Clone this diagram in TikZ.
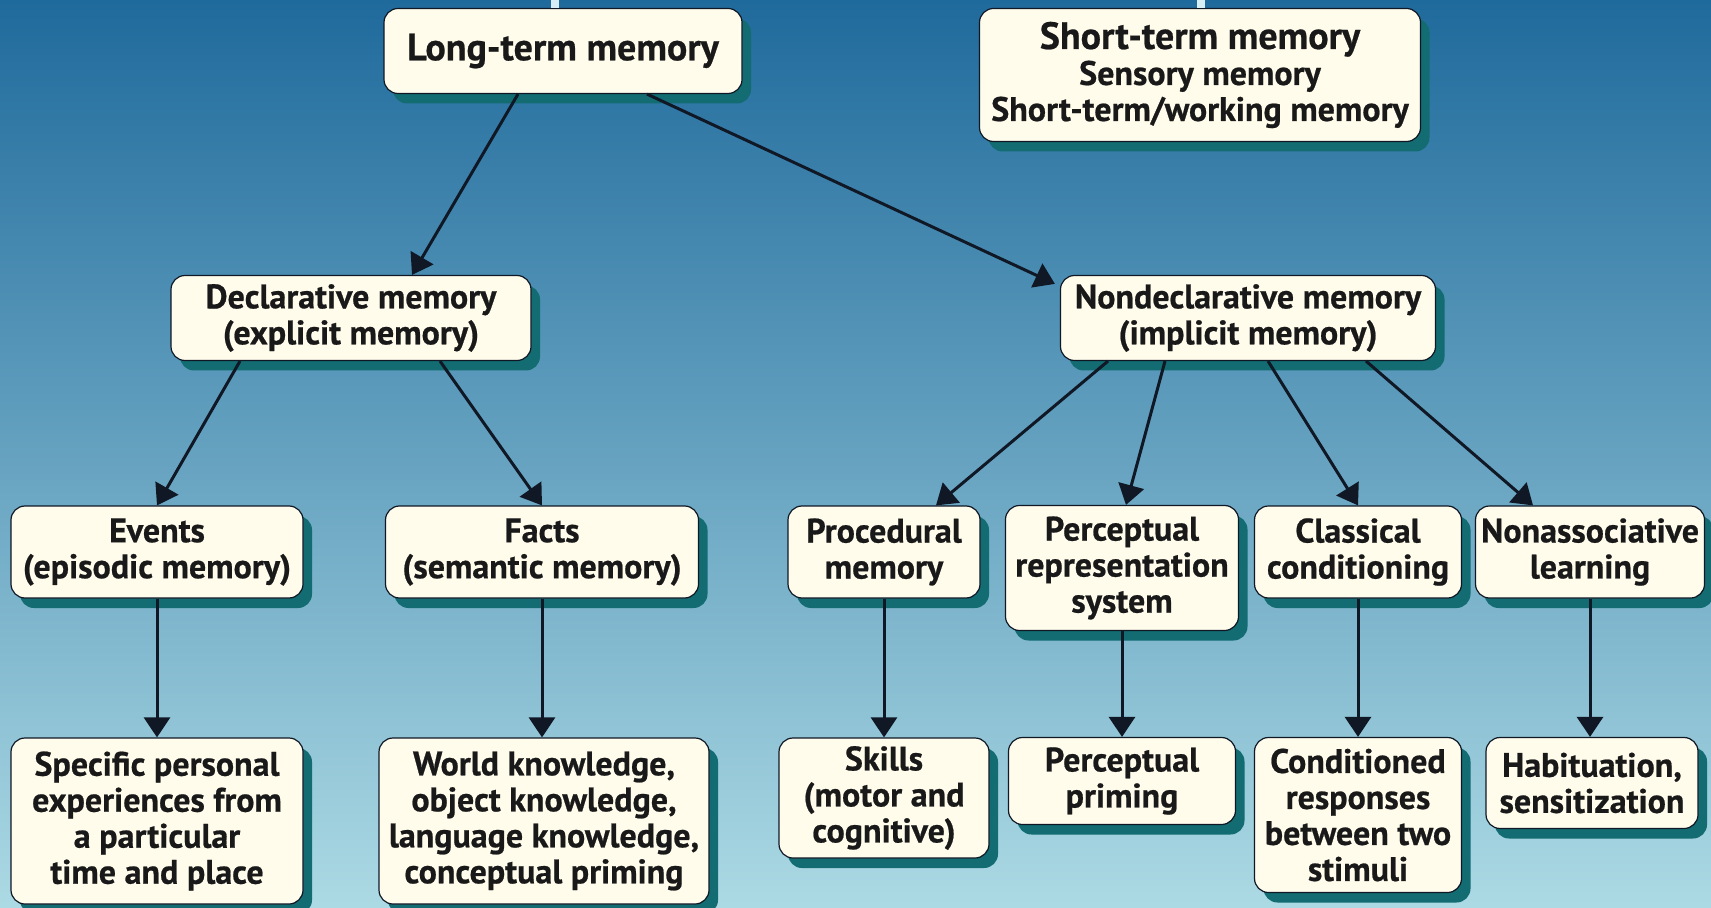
\documentclass[tikz,border=0pt]{standalone}
\usepackage{fontspec}
\setmainfont{PT Sans}[BoldFeatures={FakeBold=0.6}]
\usetikzlibrary{arrows.meta,shadows,calc}

\definecolor{bgtop}{RGB}{31,106,156}
\definecolor{bgmid}{RGB}{72,145,185}
\definecolor{bgbot}{RGB}{172,218,228}
\definecolor{cream}{RGB}{255,252,236}
\definecolor{shadowteal}{RGB}{18,108,114}
\definecolor{arrowink}{RGB}{16,24,38}
\definecolor{stubcol}{RGB}{215,238,245}

\begin{document}
\begin{tikzpicture}[x=0.5pt, y=-0.5pt,
    box/.style={draw=arrowink, line width=0.6pt, fill=cream, rounded corners=7pt, align=center,
        text=black!90, inner sep=2pt, font=\fontsize{17}{18}\selectfont\bfseries,
        drop shadow={shadow xshift=4.5pt, shadow yshift=-5pt, fill=shadowteal, opacity=1}},
    head/.style={font=\fontsize{19}{20}\selectfont\bfseries\addfontfeature{FakeBold=1.6}},
    arr/.style={-{Triangle[length=10pt,width=13pt]}, line width=1.5pt, draw=arrowink},
    stub/.style={line width=4pt, draw=stubcol}]

    \useasboundingbox (0,0) rectangle (1711,908);
    \shade[top color=bgtop, middle color=bgmid, bottom color=bgbot] (0,0) rectangle (1711,908);

    \coordinate (stubL) at (555,0);
    \coordinate (stubR) at (1201,0);

    % top row
    \node[box, head, minimum width=179pt, minimum height=42.5pt] (ltm) at (563,51) {Long-term memory};
    \node[box, minimum width=220.5pt, minimum height=66.5pt] (stm) at (1200,75)
        {{\fontsize{19}{18}\selectfont\addfontfeature{FakeBold=1.6}Short-term memory}\\Sensory memory\\Short-term/working memory};
    \draw[stub] (stubL) -- (ltm.north -| stubL);
    \draw[stub] (stubR) -- (stm.north -| stubR);

    % second row
    \node[box, minimum width=180pt, minimum height=42.5pt] (decl) at (351,318) {Declarative memory\\(explicit memory)};
    \node[box, minimum width=187.5pt, minimum height=42.5pt] (nondecl) at (1248,318) {Nondeclarative memory\\(implicit memory)};

    % third row
    \node[box, minimum width=146pt, minimum height=46pt] (events) at (157,552) {Events\\(episodic memory)};
    \node[box, minimum width=156.5pt, minimum height=46pt] (facts) at (542,552) {Facts\\(semantic memory)};
    \node[box, minimum width=96pt, minimum height=46pt] (proc) at (884,552) {Procedural\\memory};
    \node[box, minimum width=116.5pt, minimum height=62.5pt] (percep) at (1122,568) {Perceptual\\representation\\system};
    \node[box, minimum width=103.5pt, minimum height=46pt] (classic) at (1358,552) {Classical\\conditioning};
    \node[box, minimum width=114.5pt, minimum height=46pt] (nonassoc) at (1590,552) {Nonassociative\\learning};

    % bottom row
    \node[box, minimum width=146pt, minimum height=83pt] (specific) at (157,821) {Specific personal\\experiences from\\a particular\\time and place};
    \node[box, minimum width=165pt, minimum height=83pt] (world) at (544,821) {World knowledge,\\object knowledge,\\language knowledge,\\conceptual priming};
    \node[box, minimum width=105pt, minimum height=60pt] (skills) at (884,798) {Skills\\(motor and\\cognitive)};
    \node[box, minimum width=113.5pt, minimum height=43.5pt] (priming) at (1122,781) {Perceptual\\priming};
    \node[box, minimum width=103.5pt, minimum height=77.5pt] (cond) at (1358,815) {Conditioned\\responses\\between two\\stimuli};
    \node[box, minimum width=106pt, minimum height=45.5pt] (habit) at (1592,783) {Habituation,\\sensitization};

    \draw[arr] ($(ltm.south)+(-45,0)$) -- ($(decl.north)+(61,0)$);
    \draw[arr] ($(ltm.south)+(84,0)$) -- ($(nondecl.north west)+(-5,9)$);

    \draw[arr] ($(decl.south)+(-111,0)$) -- (events.north);
    \draw[arr] ($(decl.south)+(89,0)$) -- (facts.north);

    \draw[arr] ($(nondecl.south)+(-140,0)$) -- ($(proc.north)+(52,0)$);
    \draw[arr] ($(nondecl.south)+(-83,0)$) -- ($(percep.north)+(4,0)$);
    \draw[arr] ($(nondecl.south)+(20,0)$) -- (classic.north);
    \draw[arr] ($(nondecl.south)+(118,0)$) -- ($(nonassoc.north)+(-57,0)$);

    \foreach \a/\b in {events/specific, facts/world, proc/skills, percep/priming, classic/cond, nonassoc/habit}
        \draw[arr] (\a.south) -- (\a.south |- \b.north);

\end{tikzpicture}
\end{document}
